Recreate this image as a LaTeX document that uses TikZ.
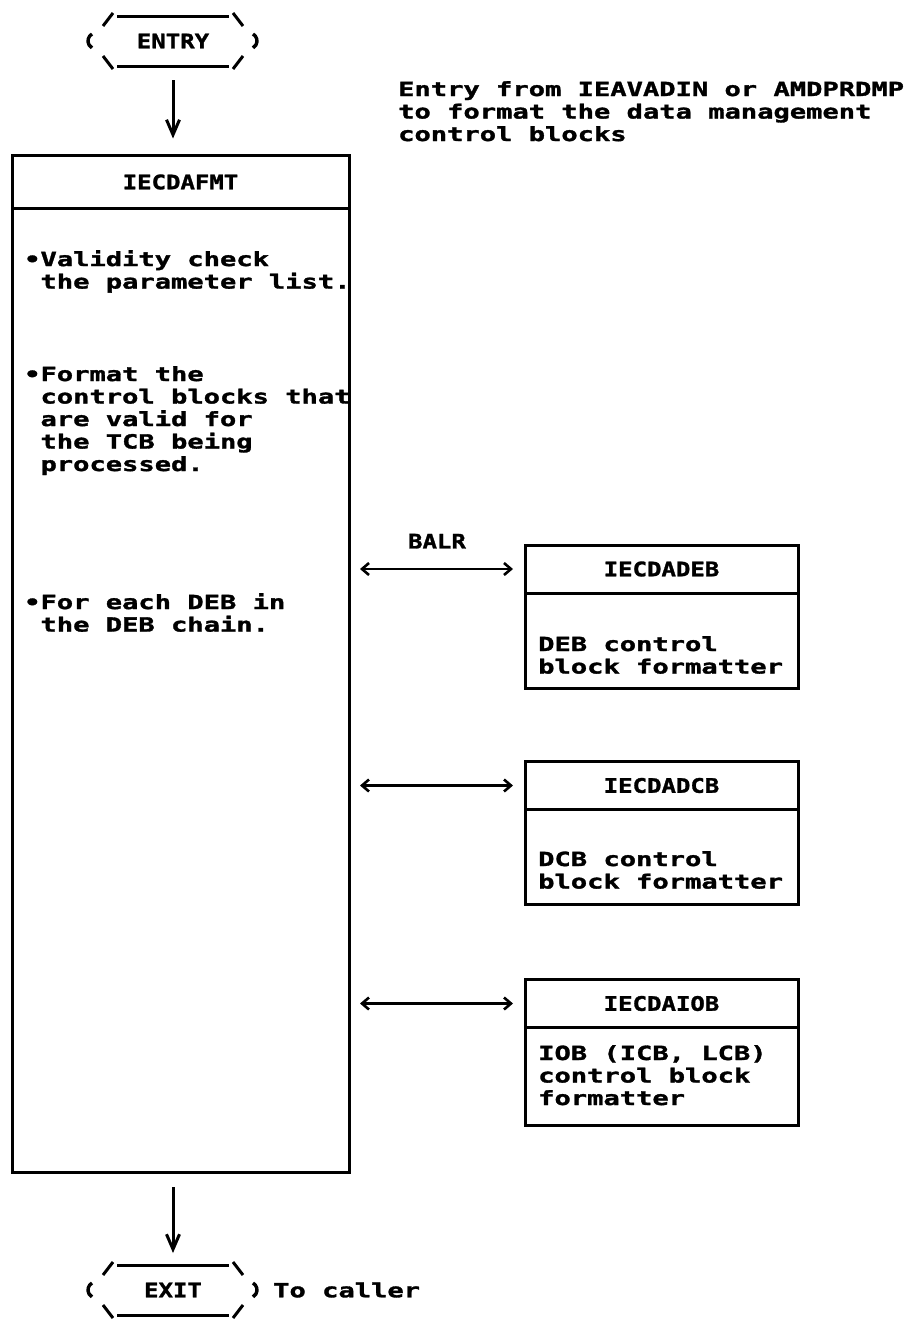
\documentclass[tikz,border=0pt]{standalone}
\usepackage{fontspec}
\newfontfamily\typefont[FakeStretch=1.39,BoldFeatures={FakeBold=1.6}]{DejaVu Sans Mono}
\newfontfamily\headfont[FakeStretch=1.2,BoldFeatures={FakeBold=1.4}]{DejaVu Sans Mono}
\usetikzlibrary{arrows.meta,calc,positioning}

\tikzset{
  txt/.style={font=\typefont\bfseries\fontsize{19.5}{22.5}\selectfont, align=left, inner sep=0pt, anchor=north west},
  head/.style={draw, line width=3pt, outer sep=0pt, inner sep=0pt, font=\headfont\bfseries\fontsize{20}{20}\selectfont},
  body/.style={draw, line width=3pt, outer sep=0pt, inner sep=0pt},
  term/.style={minimum width=112pt, minimum height=50pt, outer sep=0pt, inner sep=0pt, font=\headfont\bfseries\fontsize{20}{20}\selectfont},
  termline/.style={line width=3pt},
  flow/.style={line width=3pt, -{Straight Barb[length=15pt,width=13pt,line width=3pt]}},
  call/.style={line width=2.4pt, {Straight Barb[length=7pt,width=12pt,line width=2.6pt]}-{Straight Barb[length=7pt,width=12pt,line width=2.6pt]}}
}

% frame of an ENTRY / EXIT terminal
\newcommand\termframe[1]{%
  \draw[termline] (#1.north west) -- (#1.north east);
  \draw[termline] (#1.south west) -- (#1.south east);
  \draw[termline] ($(#1.north west)+(-4,-3)$) -- ($(#1.north west)+(-14,10)$);
  \draw[termline] ($(#1.north east)+(4,-3)$) -- ($(#1.north east)+(14,10)$);
  \draw[termline] ($(#1.south west)+(-4,3)$) -- ($(#1.south west)+(-14,-10)$);
  \draw[termline] ($(#1.south east)+(4,3)$) -- ($(#1.south east)+(14,-10)$);
  \draw[termline, line width=3.4pt] ($(#1.west)+(-25,-7)$) arc[start angle=240,end angle=120,radius=8];
  \draw[termline, line width=3.4pt] ($(#1.east)+(24,-7)$) arc[start angle=-60,end angle=60,radius=8];
}

\begin{document}
\begin{tikzpicture}[x=1pt,y=-1pt]
  \useasboundingbox (0,0) rectangle (905,1325);

  % entry
  \node[term] (entry) at (173,41) {ENTRY};
  \termframe{entry}
  \node[txt] (note) at (398,81) {Entry from IEAVADIN or AMDPRDMP\\to format the data management\\control blocks};

  % main module
  \node[head, minimum width=337pt, minimum height=53pt] (fmt) at (180.5,182) {IECDAFMT};
  \node[body, minimum width=337pt, minimum height=963.5pt, below=0pt of fmt] (fmtbody) {};
  \node[txt] (valid) at (24,250) {•Validity check\\\phantom{•}the parameter list.};
  \node[txt] (format) at (24,366) {•Format the\\\phantom{•}control blocks that\\\phantom{•}are valid for\\\phantom{•}the TCB being\\\phantom{•}processed.};
  \node[txt] (debloop) at (24,593) {•For each DEB in\\\phantom{•}the DEB chain.};

  % called formatters
  \node[head, minimum width=273pt, minimum height=48pt] (deb) at (661.5,569) {IECDADEB};
  \node[body, minimum width=273pt, minimum height=95pt, below=0pt of deb] (debbody) {};
  \node[txt] (debtext) at (538,636) {DEB control\\block formatter};

  \node[head, minimum width=273pt, minimum height=48pt] (dcb) at (661.5,785.5) {IECDADCB};
  \node[body, minimum width=273pt, minimum height=95pt, below=0pt of dcb] (dcbbody) {};
  \node[txt] (dcbtext) at (538,851) {DCB control\\block formatter};

  \node[head, minimum width=273pt, minimum height=48pt] (iob) at (661.5,1003.5) {IECDAIOB};
  \node[body, minimum width=273pt, minimum height=98pt, below=0pt of iob] (iobbody) {};
  \node[txt] (iobtext) at (538,1045) {IOB (ICB, LCB)\\control block\\formatter};

  \draw[call, shorten <=11pt, shorten >=12pt] (fmtbody.east |- deb) -- (deb.west)
    node[midway, above=16pt, font=\headfont\bfseries\fontsize{20}{20}\selectfont] {BALR};
  \draw[call, shorten <=11pt, shorten >=12pt] (fmtbody.east |- dcb) -- (dcb.west);
  \draw[call, shorten <=11pt, shorten >=12pt] (fmtbody.east |- iob) -- (iob.west);

  % exit
  \node[term] (exit) at (173,1290) {EXIT};
  \termframe{exit}
  \node[txt, right=44pt of exit] (caller) {To caller};

  \draw[flow, shorten <=14pt, shorten >=17pt] (entry.south) -- (entry.south |- fmt.north);
  \draw[flow, shorten <=15pt, shorten >=12pt] (fmtbody.south -| exit.north) -- (exit.north);
\end{tikzpicture}
\end{document}
